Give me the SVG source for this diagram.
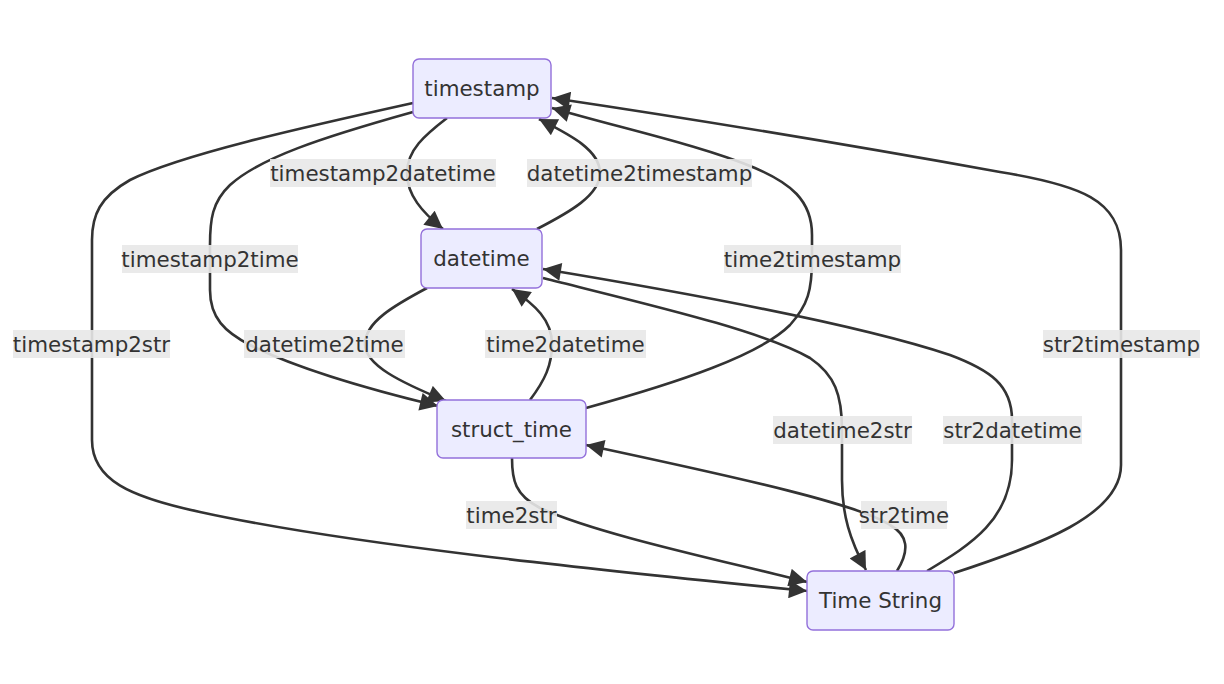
<svg xmlns="http://www.w3.org/2000/svg" width="1224" height="684" viewBox="0 0 1224 684">
<style>
.node rect{fill:#ECECFF;stroke:#9370DB;stroke-width:1.4}
text{font-family:"DejaVu Sans",Verdana,sans-serif;font-size:21.4px;fill:#333;text-anchor:middle;dominant-baseline:central}
.edge{fill:none;stroke:#333;stroke-width:2.6;marker-end:url(#arrow)}
.lbl rect{fill:#e8e8e8;fill-opacity:0.9}
</style>
<defs>
<marker id="arrow" viewBox="0 0 10 10" refX="10" refY="5" markerUnits="userSpaceOnUse" markerWidth="19" markerHeight="18" orient="auto">
<path d="M0,0 L10,5 L0,10 z" fill="#333"/>
</marker>
</defs>
<rect width="1224" height="684" fill="#fff"/>
<g id="connectors">
<path class="edge" d="M447,118 C425,135 407,150 407,173 C407,195 422,212 443,229"/>
<path class="edge" d="M537,229 C570,212 600,195 600,173 C600,150 570,135 539,119"/>
<path class="edge" d="M413,112 C320,138 260,158 230,185 C212,202 210,220 210,245 L210,290 C210,318 225,332 250,345 C300,370 380,392 438,406"/>
<path class="edge" d="M586,408 C680,382 760,355 790,325 C808,305 812,290 812,259 L812,235 C812,200 790,183 755,168 C700,145 620,128 552,108"/>
<path class="edge" d="M413,103 C300,128 180,155 130,180 C100,197 92,215 92,240 L92,440 C92,480 130,497 200,512 C350,545 600,570 807,591"/>
<path class="edge" d="M427,288 C395,305 365,322 365,344 C365,365 400,382 446,401"/>
<path class="edge" d="M530,400 C545,380 552,365 552,344 C552,320 535,305 512,289"/>
<path class="edge" d="M512,458 C512,480 515,495 540,508 C600,535 720,560 807,582"/>
<path class="edge" d="M897,571 C910,550 908,535 890,525 C860,505 750,480 586,445"/>
<path class="edge" d="M543,278 C650,305 760,330 810,358 C835,375 842,395 842,430 L842,480 C842,515 850,540 866,570"/>
<path class="edge" d="M927,571 C970,545 1012,520 1012,460 L1012,420 C1012,385 990,370 950,355 C860,325 700,295 543,269"/>
<path class="edge" d="M954,573 C1040,545 1121,515 1121,465 L1121,250 C1121,200 1080,185 1000,172 C850,145 700,120 552,98"/>
</g>
<g id="edge-labels">
<g class="lbl"><rect x="270" y="159" width="226" height="28"/><text x="383" y="173">timestamp2datetime</text></g>
<g class="lbl"><rect x="527" y="159" width="225" height="28"/><text x="639.5" y="173">datetime2timestamp</text></g>
<g class="lbl"><rect x="122" y="245" width="176" height="28"/><text x="210" y="259">timestamp2time</text></g>
<g class="lbl"><rect x="724" y="245" width="177" height="28"/><text x="812.5" y="259">time2timestamp</text></g>
<g class="lbl"><rect x="13" y="330" width="157" height="28"/><text x="91.5" y="344">timestamp2str</text></g>
<g class="lbl"><rect x="244" y="330" width="161" height="28"/><text x="324.5" y="344">datetime2time</text></g>
<g class="lbl"><rect x="485" y="330" width="161" height="28"/><text x="565.5" y="344">time2datetime</text></g>
<g class="lbl"><rect x="1043" y="330" width="157" height="28"/><text x="1121.5" y="344">str2timestamp</text></g>
<g class="lbl"><rect x="773" y="416" width="139" height="28"/><text x="842.5" y="430">datetime2str</text></g>
<g class="lbl"><rect x="943" y="416" width="139" height="28"/><text x="1012.5" y="430">str2datetime</text></g>
<g class="lbl"><rect x="466" y="501" width="91" height="28"/><text x="511.5" y="515">time2str</text></g>
<g class="lbl"><rect x="861" y="501" width="86" height="28"/><text x="904" y="515">str2time</text></g>
</g>
<g id="node-timestamp" class="node"><rect x="413" y="59" width="138" height="59" rx="6"/><text x="482" y="88.5">timestamp</text></g>
<g id="node-datetime" class="node"><rect x="421" y="229" width="121" height="59" rx="6"/><text x="481.5" y="258.5">datetime</text></g>
<g id="node-struct_time" class="node"><rect x="437" y="400" width="149" height="58" rx="6"/><text x="511.5" y="429">struct_time</text></g>
<g id="node-timestring" class="node"><rect x="807" y="571" width="147" height="59" rx="6"/><text x="880.5" y="600.5">Time String</text></g>
</svg>
